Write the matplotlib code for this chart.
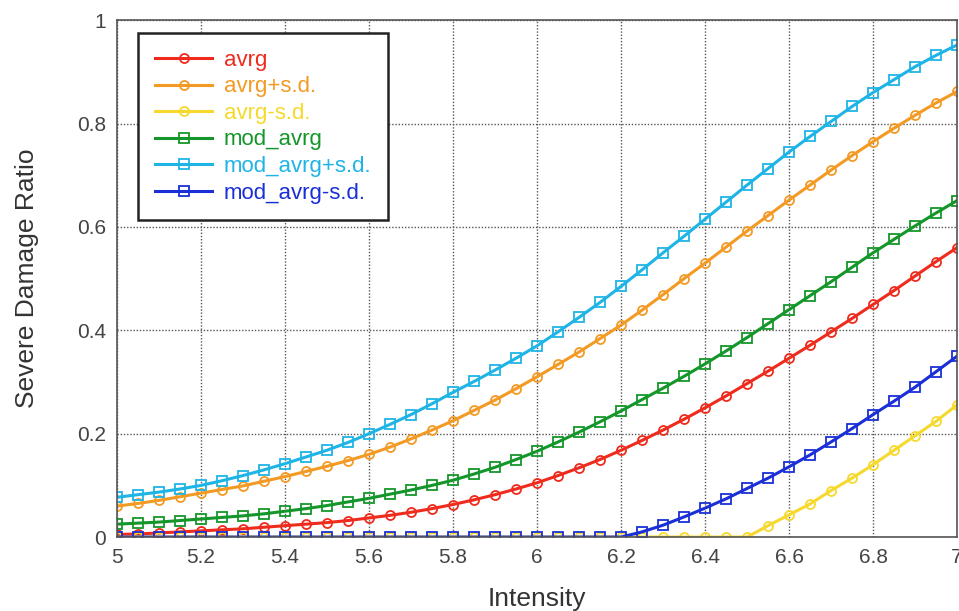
import matplotlib
matplotlib.use("Agg")
import matplotlib.pyplot as plt

plt.rcParams['font.family'] = ['Liberation Sans', 'DejaVu Sans']

# Intensity grid (markers every 0.05)
intensity = [5.00, 5.05, 5.10, 5.15, 5.20, 5.25, 5.30, 5.35, 5.40, 5.45,
             5.50, 5.55, 5.60, 5.65, 5.70, 5.75, 5.80, 5.85, 5.90, 5.95,
             6.00, 6.05, 6.10, 6.15, 6.20, 6.25, 6.30, 6.35, 6.40, 6.45,
             6.50, 6.55, 6.60, 6.65, 6.70, 6.75, 6.80, 6.85, 6.90, 6.95,
             7.00]

avrg = [0.005, 0.006, 0.008, 0.010, 0.012, 0.014, 0.016, 0.019, 0.022, 0.025,
        0.028, 0.032, 0.037, 0.042, 0.048, 0.055, 0.063, 0.072, 0.082, 0.093,
        0.105, 0.119, 0.134, 0.150, 0.168, 0.187, 0.207, 0.228, 0.250, 0.273,
        0.297, 0.321, 0.346, 0.371, 0.397, 0.423, 0.450, 0.477, 0.505, 0.533,
        0.560]

avrg_p = [0.060, 0.065, 0.071, 0.078, 0.085, 0.092, 0.099, 0.108, 0.117, 0.127,
          0.137, 0.148, 0.160, 0.174, 0.190, 0.207, 0.225, 0.245, 0.265, 0.287,
          0.310, 0.334, 0.358, 0.384, 0.410, 0.439, 0.469, 0.500, 0.530, 0.561,
          0.592, 0.622, 0.652, 0.681, 0.710, 0.738, 0.765, 0.791, 0.816, 0.840,
          0.862]

avrg_m = [0.0] * 31 + [0.022, 0.043, 0.064, 0.090, 0.114, 0.140, 0.168,
                       0.196, 0.224, 0.256]

mod_avrg = [0.025, 0.027, 0.029, 0.032, 0.035, 0.038, 0.041, 0.045, 0.050, 0.055,
            0.061, 0.068, 0.075, 0.083, 0.091, 0.100, 0.110, 0.122, 0.135, 0.150,
            0.166, 0.184, 0.203, 0.223, 0.244, 0.266, 0.288, 0.311, 0.335, 0.360,
            0.386, 0.413, 0.440, 0.467, 0.494, 0.522, 0.550, 0.576, 0.602, 0.627,
            0.651]

mod_avrg_p = [0.077, 0.082, 0.087, 0.093, 0.100, 0.109, 0.119, 0.130, 0.142, 0.155,
              0.168, 0.183, 0.200, 0.218, 0.237, 0.258, 0.280, 0.301, 0.323, 0.346,
              0.370, 0.397, 0.425, 0.454, 0.485, 0.517, 0.550, 0.582, 0.615, 0.648,
              0.681, 0.713, 0.745, 0.775, 0.804, 0.833, 0.860, 0.885, 0.910, 0.932,
              0.952]

mod_avrg_m = [0.0] * 25 + [0.010, 0.023, 0.039, 0.056, 0.074, 0.094, 0.114,
                           0.136, 0.159, 0.184, 0.210, 0.237, 0.263, 0.290,
                           0.320, 0.350]

series = [
    ("avrg", avrg, '#ee2b1c', 'o'),
    ("avrg+s.d.", avrg_p, '#f39a24', 'o'),
    ("avrg-s.d.", avrg_m, '#f6d92c', 'o'),
    ("mod_avrg", mod_avrg, '#14962a', 's'),
    ("mod_avrg+s.d.", mod_avrg_p, '#1fb4e6', 's'),
    ("mod_avrg-s.d.", mod_avrg_m, '#1a2fd6', 's'),
]

fig = plt.figure(figsize=(9.59, 6.11), dpi=100)
ax = fig.add_axes([0.122, 0.121, 0.876, 0.846])

for name, vals, col, mk in series:
    ms = 6.5 if mk == 'o' else 7.5
    ax.plot(intensity, vals, color=col, lw=2.2, marker=mk, ms=ms,
            mfc='none', mec=col, mew=1.3, label=name)

ax.set_xlim(5, 7)
ax.set_ylim(0, 1)
ax.set_xticks([5, 5.2, 5.4, 5.6, 5.8, 6, 6.2, 6.4, 6.6, 6.8, 7])
ax.set_xticklabels(['5', '5.2', '5.4', '5.6', '5.8', '6', '6.2', '6.4', '6.6', '6.8', '7'])
ax.set_yticks([0, 0.2, 0.4, 0.6, 0.8, 1])
ax.set_yticklabels(['0', '0.2', '0.4', '0.6', '0.8', '1'])
ax.tick_params(length=0, labelsize=15, colors='#444444', pad=8)
ax.grid(True, color='#555555', ls=(0, (1, 1.3)), lw=1.0)
for sp in ax.spines.values():
    sp.set_color('#555555')
    sp.set_linewidth(1.2)

ax.set_xlabel('Intensity', fontsize=19, color='#333333', labelpad=14)
ax.set_ylabel('Severe Damage Ratio', fontsize=19, color='#333333', labelpad=27)

leg = ax.legend(loc='upper left', bbox_to_anchor=(0.025, 0.975), borderaxespad=0,
                fontsize=16, numpoints=1, handlelength=2.6, handletextpad=0.5,
                labelspacing=0.25, fancybox=False, framealpha=1, borderpad=0.75)
leg.get_frame().set_edgecolor('#222222')
leg.get_frame().set_linewidth(1.8)
for txt, (name, vals, col, mk) in zip(leg.get_texts(), series):
    txt.set_color(col)

fig.savefig('out.png', dpi=100)
